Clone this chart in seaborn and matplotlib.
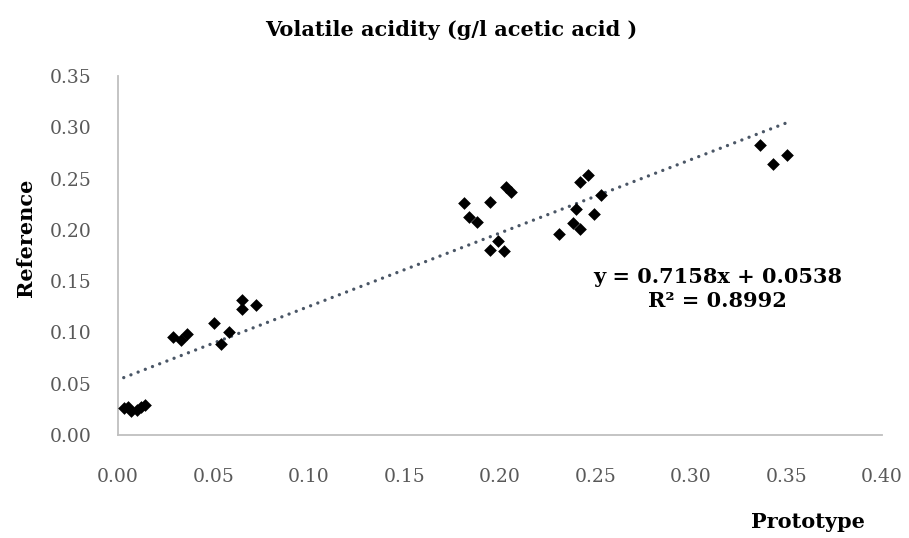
import matplotlib
matplotlib.use("Agg")
import matplotlib.pyplot as plt
import numpy as np
import pandas as pd
import seaborn as sns

# values
prototype = [0.003, 0.005, 0.007, 0.010, 0.012, 0.014,
             0.029, 0.033, 0.036, 0.050, 0.054, 0.058, 0.065, 0.065, 0.072,
             0.181, 0.184, 0.188, 0.195, 0.199, 0.195, 0.202, 0.203, 0.206,
             0.231, 0.238, 0.240, 0.242, 0.242, 0.246, 0.249, 0.253,
             0.336, 0.343, 0.350]
reference = [0.026, 0.027, 0.023, 0.024, 0.027, 0.029,
             0.096, 0.093, 0.098, 0.109, 0.089, 0.100, 0.132, 0.123, 0.127,
             0.226, 0.213, 0.208, 0.227, 0.189, 0.180, 0.179, 0.242, 0.237,
             0.196, 0.207, 0.220, 0.201, 0.247, 0.253, 0.215, 0.234,
             0.283, 0.264, 0.273]
slope = 0.7158
intercept = 0.0538
r2 = 0.8992
x_ticks = [0.00, 0.05, 0.10, 0.15, 0.20, 0.25, 0.30, 0.35, 0.40]
y_ticks = [0.00, 0.05, 0.10, 0.15, 0.20, 0.25, 0.30, 0.35]

sns.set_theme(style="white")
plt.rcParams['font.family'] = ['DejaVu Serif']

df = pd.DataFrame({'Prototype': prototype, 'Reference': reference})

fig = plt.figure(figsize=(9.09, 5.38), dpi=100)
ax = fig.add_axes([118/909, 1-435/538, (882-118)/909, (435-76)/538])

sns.scatterplot(data=df, x='Prototype', y='Reference', marker='D', s=42,
                color='black', edgecolor='black', linewidth=0, ax=ax, zorder=3)

# linear trendline over the data range
xs = np.array([min(prototype), max(prototype)])
ax.plot(xs, slope*xs + intercept, color='#4a5666', lw=2.4,
        linestyle=(0, (0.01, 2.3)), dash_capstyle='round', zorder=2)

ax.set_xlim(0, 0.40)
ax.set_ylim(0, 0.35)
ax.set_xticks(x_ticks)
ax.set_yticks(y_ticks)
ax.set_xticklabels(['%.2f' % v for v in x_ticks])
ax.set_yticklabels(['%.2f' % v for v in y_ticks])
ax.tick_params(axis='both', length=0, labelsize=13.5, colors='#595959')
ax.tick_params(axis='x', pad=24)
ax.tick_params(axis='y', pad=19)
ax.set_xlabel('')
ax.set_ylabel('')
for side in ['top', 'right']:
    ax.spines[side].set_visible(False)
for side in ['left', 'bottom']:
    ax.spines[side].set_color('#bfbfbf')
    ax.spines[side].set_linewidth(1.3)
ax.grid(False)

fig.text(451/909, 1-30/538, 'Volatile acidity (g/l acetic acid )', ha='center',
         va='center', fontsize=15, fontweight='bold', color='black')
fig.text(808/909, 1-522/538, 'Prototype', ha='center', va='center',
         fontsize=15, fontweight='bold', color='black')
fig.text(26/909, 1-238/538, 'Reference', ha='center', va='center',
         rotation=90, fontsize=15, fontweight='bold', color='black')

ax.text(0.314, 0.154, 'y = %.4fx + %.4f' % (slope, intercept),
        ha='center', va='center', fontsize=15, fontweight='bold', color='black')
ax.text(0.314, 0.1305, 'R² = %.4f' % r2, ha='center', va='center',
        fontsize=15, fontweight='bold', color='black')

fig.savefig('out.png', dpi=100)
